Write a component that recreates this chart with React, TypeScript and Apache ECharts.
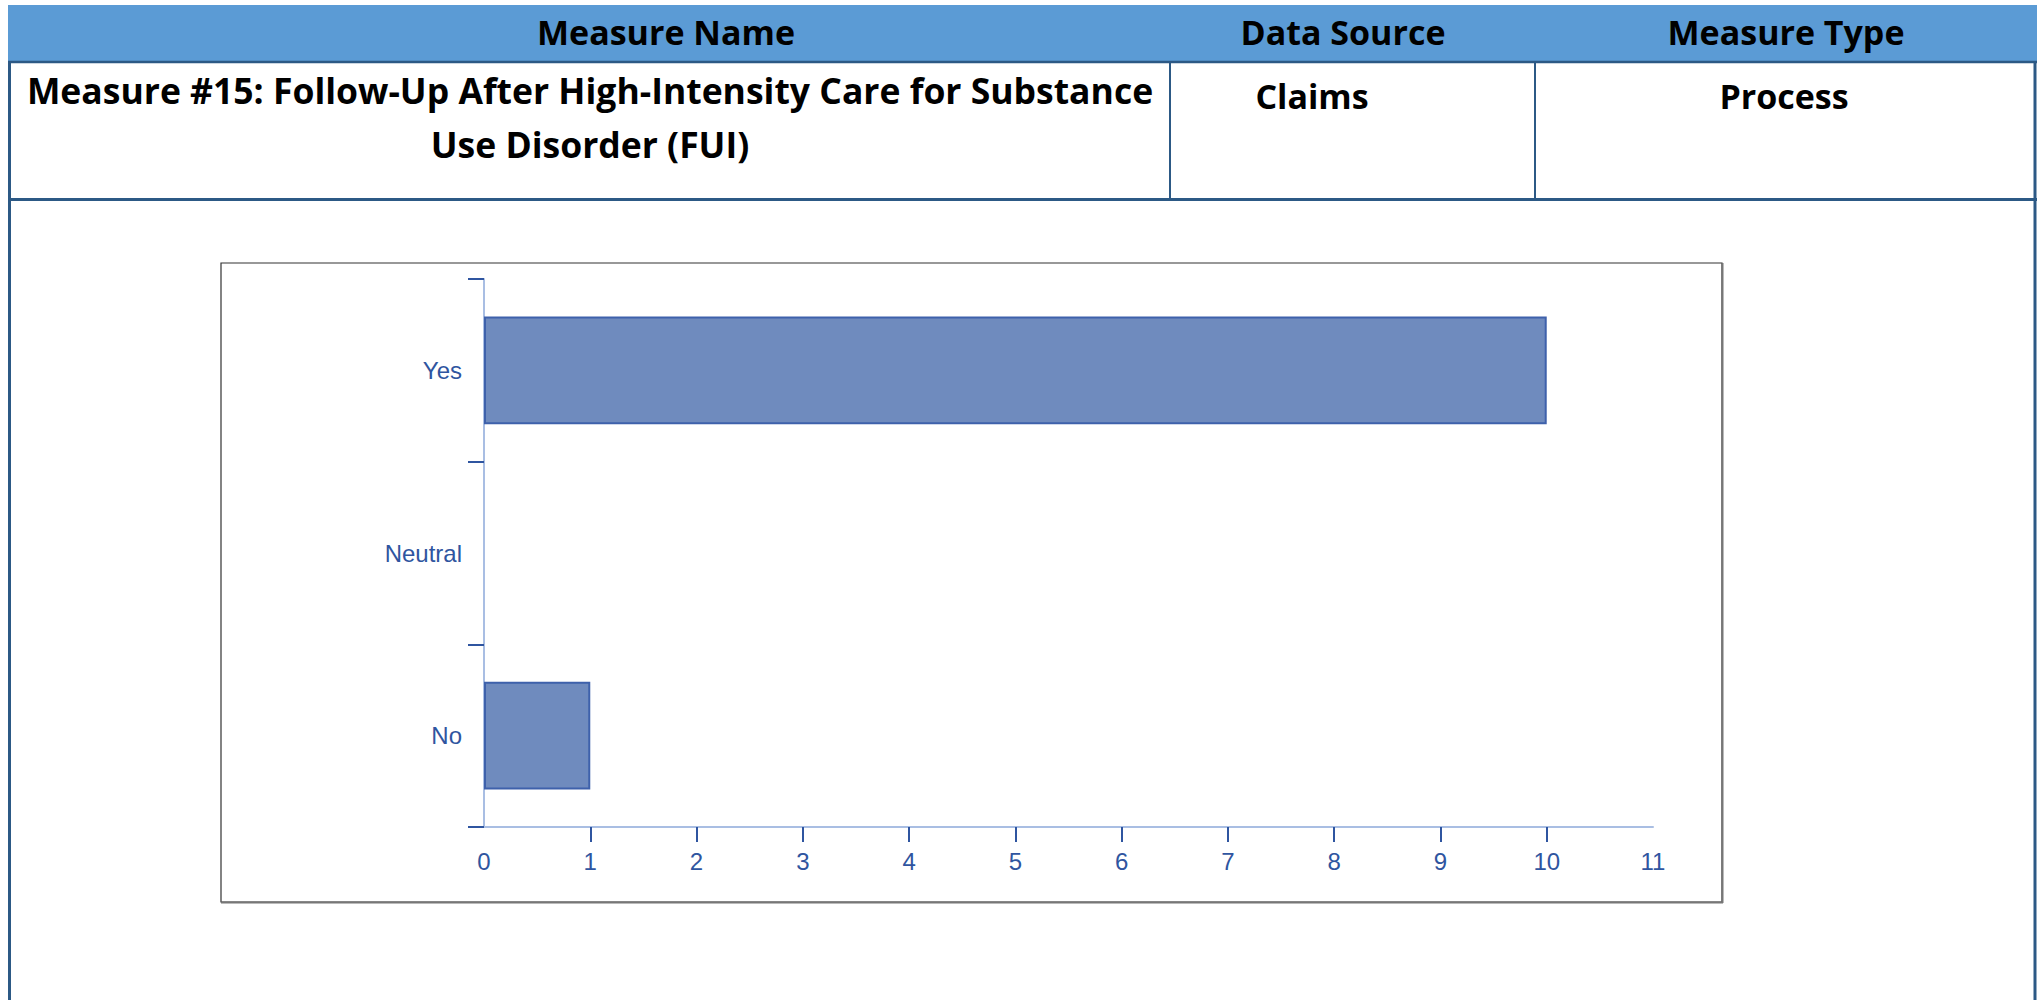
import React, { useEffect, useRef } from "react";
import * as echarts from "echarts";

// ---- data ----
const categories = ["Yes", "Neutral", "No"];
const counts = [10, 0, 1];
const xMin = 0;
const xMax = 11;
const xTickValues = [1, 2, 3, 4, 5, 6, 7, 8, 9, 10];

const headerLabels = ["Measure Name", "Data Source", "Measure Type"];
const measureNameLines = [
  "Measure #15: Follow-Up After High-Intensity Care for Substance",
  "Use Disorder (FUI)",
];
const dataSource = "Claims";
const measureType = "Process";

// ---- styles ----
const TABLE_LINE = "#2C5985";
const HEADER_FILL = "#5B9BD5";
const BAR_FILL = "#6F8BBE";
const BAR_BORDER = "#3E61AB";
const AXIS_LINE = "#A9BEE3";
const AXIS_DARK = "#2F55A0";
const BOLD_FONT = "'Open Sans', 'Liberation Sans', sans-serif";
const AXIS_FONT = "'Liberation Sans', Arial, sans-serif";

export default function App() {
  const ref = useRef<HTMLDivElement>(null);

  useEffect(() => {
    if (!ref.current) return;
    const chart = echarts.init(ref.current, undefined, { renderer: "svg" });

    const hText = (text: string, x: number, y: number, size: number) => ({
      type: "text",
      x,
      y,
      z: 10,
      style: {
        text,
        fill: "#000",
        font: `bold ${size}px ${BOLD_FONT}`,
        textAlign: "center",
        textVerticalAlign: "middle",
      },
    });
    const line = (x1: number, y1: number, x2: number, y2: number, w: number, color = TABLE_LINE) => ({
      type: "line",
      z: 10,
      shape: { x1, y1, x2, y2 },
      style: { stroke: color, lineWidth: w },
    });

    const graphic: any[] = [
      { type: "rect", z: 5, shape: { x: 8, y: 5, width: 2029, height: 57 }, style: { fill: HEADER_FILL } },
      hText(headerLabels[0], 666, 32, 34),
      hText(headerLabels[1], 1343, 32, 34),
      hText(headerLabels[2], 1786, 32, 34),
      line(8, 62, 2037, 62, 2.5),
      line(9.5, 62, 9.5, 1000, 3),
      line(2035, 62, 2035, 1000, 3),
      line(1170, 62, 1170, 199, 2),
      line(1535, 62, 1535, 199, 2),
      line(8, 199.5, 2037, 199.5, 3),
      hText(measureNameLines[0], 590, 90, 35.5),
      hText(measureNameLines[1], 590, 144, 35.5),
      hText(dataSource, 1312, 96, 34),
      hText(measureType, 1784, 96, 34),
      // chart frame
      { type: "rect", z: 1, shape: { x: 221, y: 263, width: 1501, height: 639 }, style: { fill: "none", stroke: "#333", lineWidth: 1.2 } },
      line(1722.5, 263, 1722.5, 903, 2, "#777"),
      line(221, 902.5, 1723, 902.5, 2, "#777"),
    ];

    chart.setOption({
      animation: false,
      backgroundColor: "#fff",
      graphic,
      grid: { left: 484, top: 279, width: 1169, height: 548, containLabel: false },
      xAxis: {
        type: "value",
        min: xMin,
        max: xMax,
        interval: 1,
        splitLine: { show: false },
        axisLine: { show: true, lineStyle: { color: AXIS_LINE, width: 2 } },
        axisTick: { show: true, length: 15, customValues: xTickValues, lineStyle: { color: AXIS_DARK, width: 2 } },
        axisLabel: { color: AXIS_DARK, fontSize: 24, fontFamily: AXIS_FONT, margin: 22 },
      },
      yAxis: {
        type: "category",
        data: categories,
        inverse: true,
        axisLine: { show: true, lineStyle: { color: AXIS_LINE, width: 2 } },
        axisTick: { show: true, length: 16, alignWithLabel: false, lineStyle: { color: AXIS_DARK, width: 2 } },
        axisLabel: { color: AXIS_DARK, fontSize: 24, fontFamily: AXIS_FONT, margin: 22 },
      },
      series: [
        {
          type: "bar",
          data: counts.map((v) => (v === 0 ? "-" : v)),
          barCategoryGap: "41%",
          itemStyle: { color: BAR_FILL, borderColor: BAR_BORDER, borderWidth: 2 },
        },
      ],
    });

    return () => chart.dispose();
  }, []);

  return (
    <div
      ref={ref}
      style={{ position: "fixed", left: 0, top: 0, width: 2044, height: 1000, background: "#fff" }}
    />
  );
}
